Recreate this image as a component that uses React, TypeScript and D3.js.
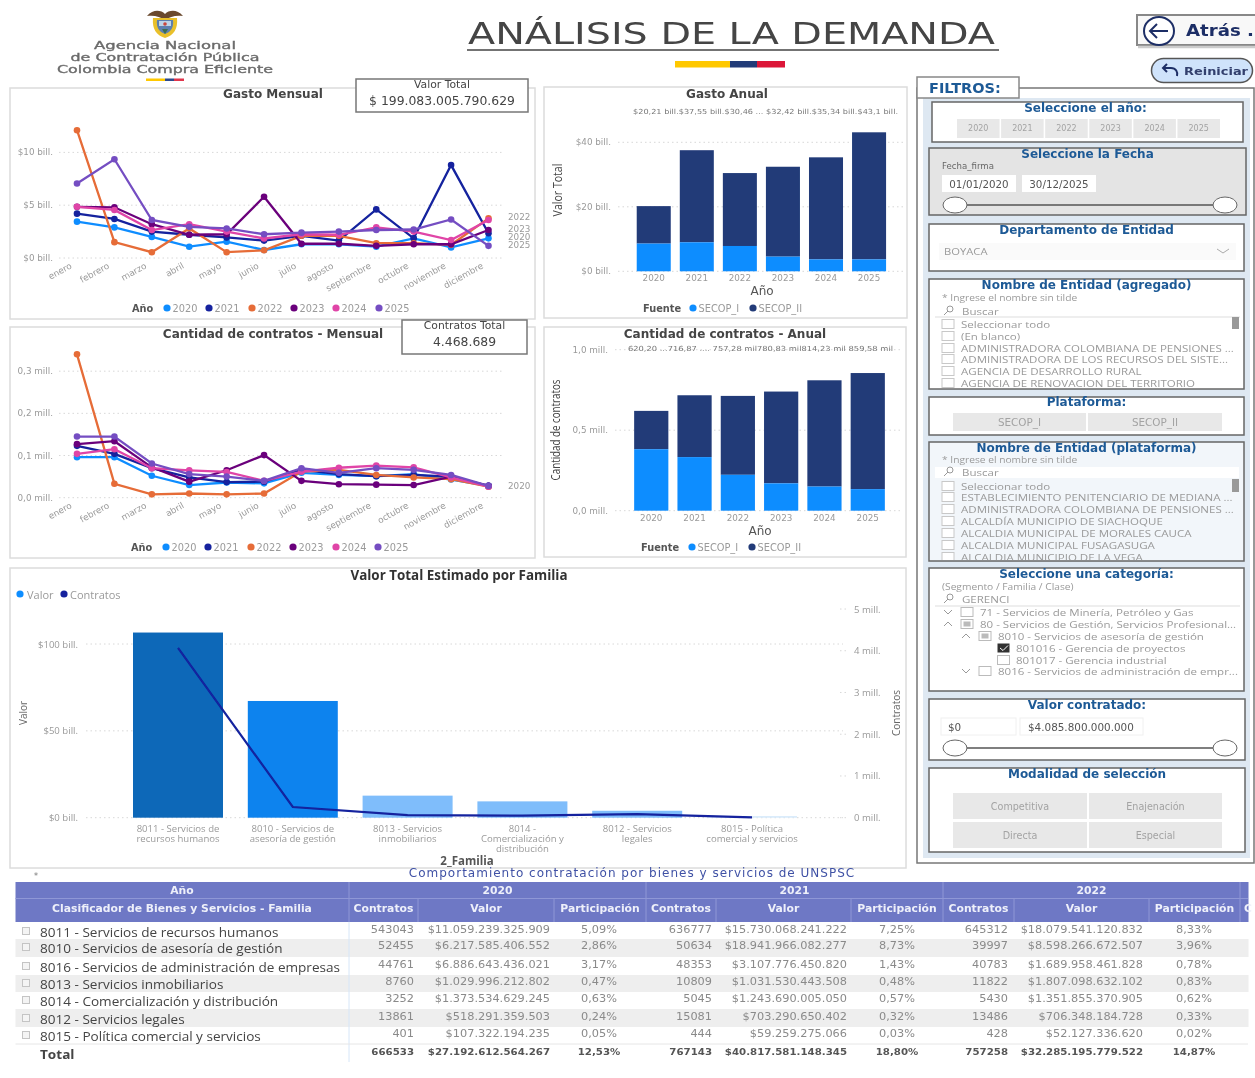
import * as d3 from "d3";

const W = 1255;
const H = 1078;
const months = ["enero", "febrero", "marzo", "abril", "mayo", "junio", "julio", "agosto", "septiembre", "octubre", "noviembre", "diciembre"];
const years = ["2020", "2021", "2022", "2023", "2024", "2025"];
const yearColors = ["#118DFF", "#12239E", "#E66C37", "#6B007B", "#E044A7", "#744EC2"];

// gasto mensual, billones
const gasto2020 = [3.44, 2.9, 2.0, 1.07, 1.55, 0.76, 1.3, 1.3, 1.07, 1.86, 1.0, 1.86];
const gasto2021 = [4.2, 3.7, 2.5, 2.2, 1.95, 1.65, 2.1, 1.65, 4.6, 1.86, 8.8, 2.35];
const gasto2022 = [12.1, 1.5, 0.55, 2.8, 0.55, 0.73, 2.1, 2.1, 1.4, 1.4, 1.25, 3.75];
const gasto2023 = [4.85, 4.8, 3.2, 2.2, 2.25, 5.8, 1.35, 1.35, 1.15, 1.3, 1.3, 2.65];
const gasto2024 = [4.85, 4.55, 2.65, 3.2, 2.5, 1.85, 2.25, 2.2, 2.9, 2.5, 1.7, 3.6];
const gasto2025 = [7.05, 9.35, 3.6, 2.95, 2.8, 2.25, 2.4, 2.5, 2.65, 2.7, 3.65, 1.15];
const gastoSeries = [gasto2020, gasto2021, gasto2022, gasto2023, gasto2024, gasto2025];

// cantidad mensual, millones
const cant2020 = [0.096, 0.096, 0.052, 0.03, 0.036, 0.034, 0.059, 0.054, 0.051, 0.056, 0.043, 0.028];
const cant2021 = [0.123, 0.104, 0.07, 0.048, 0.037, 0.038, 0.066, 0.056, 0.051, 0.054, 0.05, 0.028];
const cant2022 = [0.34, 0.033, 0.008, 0.01, 0.008, 0.01, 0.062, 0.066, 0.054, 0.048, 0.044, 0.026];
const cant2023 = [0.127, 0.134, 0.072, 0.038, 0.065, 0.101, 0.04, 0.032, 0.031, 0.03, 0.05, 0.028];
const cant2024 = [0.104, 0.115, 0.07, 0.065, 0.061, 0.04, 0.062, 0.071, 0.076, 0.072, 0.048, 0.026];
const cant2025 = [0.145, 0.145, 0.081, 0.056, 0.05, 0.04, 0.07, 0.059, 0.07, 0.066, 0.054, 0.028];
const cantSeries = [cant2020, cant2021, cant2022, cant2023, cant2024, cant2025];

const gastoTotal = [20.21, 37.55, 30.46, 32.42, 35.34, 43.1];
const gastoSecop1 = [8.6, 9.0, 7.85, 4.55, 3.7, 3.7];
const gastoLabels = "$20,21 bill.$37,55 bill.$30,46 ... $32,42 bill.$35,34 bill.$43,1 bill.";
const contratosTotal = [0.62, 0.717, 0.713, 0.74, 0.81, 0.855];
const contratosSecop1 = [0.382, 0.333, 0.223, 0.17, 0.15, 0.134];
const contratosLabels = "620,20 ...716,87 .... 757,28 mil780,83 mil814,23 mil 859,58 mil";

const familiaLabels = [
  ["8011 - Servicios de", "recursos humanos"],
  ["8010 - Servicios de", "asesoría de gestión"],
  ["8013 - Servicios", "inmobiliarios"],
  ["8014 -", "Comercialización y", "distribución"],
  ["8012 - Servicios", "legales"],
  ["8015 - Política", "comercial y servicios"],
];
const familiaValor = [106.6, 67.2, 12.7, 9.4, 4, 0.9];
const familiaContratos = [4.07, 0.256, 0.064, 0.048, 0.088, 0.008];
const familiaColors = ["#0F68B8", "#1183EE", "#7FBDFB", "#7FBDFB", "#7FBDFB", "#D6EAFB"];

const tableFamilias = [
  "8011 - Servicios de recursos humanos",
  "8010 - Servicios de asesoría de gestión",
  "8016 - Servicios de administración de empresas",
  "8013 - Servicios inmobiliarios",
  "8014 - Comercialización y distribución",
  "8012 - Servicios legales",
  "8015 - Política comercial y servicios",
  "Total",
];
const contratos2020 = ["543043", "52455", "44761", "8760", "3252", "13861", "401", "666533"];
const valor2020 = ["$11.059.239.325.909", "$6.217.585.406.552", "$6.886.643.436.021", "$1.029.996.212.802", "$1.373.534.629.245", "$518.291.359.503", "$107.322.194.235", "$27.192.612.564.267"];
const part2020 = ["5,09%", "2,86%", "3,17%", "0,47%", "0,63%", "0,24%", "0,05%", "12,53%"];
const contratos2021 = ["636777", "50634", "48353", "10809", "5045", "15081", "444", "767143"];
const valor2021 = ["$15.730.068.241.222", "$18.941.966.082.277", "$3.107.776.450.820", "$1.031.530.443.508", "$1.243.690.005.050", "$703.290.650.402", "$59.259.275.066", "$40.817.581.148.345"];
const part2021 = ["7,25%", "8,73%", "1,43%", "0,48%", "0,57%", "0,32%", "0,03%", "18,80%"];
const contratos2022 = ["645312", "39997", "40783", "11822", "5430", "13486", "428", "757258"];
const valor2022 = ["$18.079.541.120.832", "$8.598.266.672.507", "$1.689.958.461.828", "$1.807.098.632.102", "$1.351.855.370.905", "$706.348.184.728", "$52.127.336.620", "$32.285.195.779.522"];
const part2022 = ["8,33%", "3,96%", "0,78%", "0,83%", "0,62%", "0,33%", "0,02%", "14,87%"];

const entidadesAgregado = ["Seleccionar todo", "(En blanco)", "ADMINISTRADORA COLOMBIANA DE PENSIONES ...", "ADMINISTRADORA DE LOS RECURSOS DEL SISTE...", "AGENCIA DE DESARROLLO RURAL", "AGENCIA DE RENOVACION DEL TERRITORIO"];
const entidadesPlataforma = ["Seleccionar todo", "ESTABLECIMIENTO PENITENCIARIO DE MEDIANA ...", "ADMINISTRADORA COLOMBIANA DE PENSIONES ...", "ALCALDÍA MUNICIPIO DE SIACHOQUE", "ALCALDIA MUNICIPAL DE MORALES CAUCA", "ALCALDIA MUNICIPAL FUSAGASUGA", "ALCALDIA MUNICIPIO DE LA VEGA"];

const WIDE = "'DejaVu Sans', sans-serif";
const SANS = "'Open Sans', sans-serif";
const AXIS = "#9a9a9a";
const BLUE_T = "#1F5A96";

// el tablero original esta estirado a lo ancho
function SX({ x, y, k = 1.2, size = 9.6, fill = "#9a9a9a", weight = "normal", anchor = "start", family = SANS, children }) {
  return (
    <text transform={`translate(${x},${y}) scale(${k},1)`} textAnchor={anchor} dominantBaseline="central" fontFamily={family} fontSize={size} fontWeight={weight} fill={fill}>
      {children}
    </text>
  );
}

function Panel({ x, y, w, h }) {
  return <rect x={x} y={y} width={w} height={h} fill="#fff" stroke="#dcdcdc" strokeWidth={1.5} />;
}

function Grid({ x0, x1, y }) {
  return <line x1={x0} x2={x1} y1={y} y2={y} stroke="#d8d8d8" strokeDasharray="1.5 3" />;
}

function ChartTitle({ x, y, children }) {
  return <text x={x} y={y} textAnchor="middle" dominantBaseline="central" fontFamily={WIDE} fontSize={12} fontWeight="bold" fill="#444">{children}</text>;
}

function Legend({ y, title, titleX, items, colors, dots, size = 9.8 }) {
  return (
    <g fontFamily={WIDE} fontSize={size} dominantBaseline="central">
      <text x={titleX} y={y} fontWeight="bold" fill="#555">{title}</text>
      {items.map((d, i) => (
        <g key={d}>
          <circle cx={dots[i]} cy={y} r={3.6} fill={colors[i]} />
          <text x={dots[i] + 5.5} y={y} fill={AXIS}>{d}</text>
        </g>
      ))}
    </g>
  );
}

function MonthLines({ series, domainMax, ticks, fmt, y0, y1, endLabels }) {
  const x = d3.scalePoint().domain(months).range([77, 488.5]);
  const y = d3.scaleLinear().domain([0, domainMax]).range([y0, y1]);
  const line = d3.line().x((_, i) => x(months[i])).y((d) => y(d));
  return (
    <g>
      {ticks.map((t) => (
        <g key={t}>
          <Grid x0={59} x1={503} y={y(t)} />
          <text x={53} y={y(t)} textAnchor="end" dominantBaseline="central" fontSize={8.8} fontFamily={WIDE} fill={AXIS}>{fmt(t)}</text>
        </g>
      ))}
      {months.map((m) => (
        <text key={m} transform={`translate(${x(m) - 6},${y0 + 7}) rotate(-29)`} textAnchor="end" dominantBaseline="central" fontSize={8.8} fontFamily={WIDE} fill={AXIS}>{m}</text>
      ))}
      {series.map((s, k) => (
        <g key={k}>
          <path d={line(s)} fill="none" stroke={yearColors[k]} strokeWidth={2.3} />
          {s.map((v, i) => <circle key={i} cx={x(months[i])} cy={y(v)} r={3.3} fill={yearColors[k]} />)}
        </g>
      ))}
      {endLabels.map((l) => (
        <text key={l.t} x={508} y={l.y} fontSize={8.8} fontFamily={WIDE} fill={AXIS} dominantBaseline="central">{l.t}</text>
      ))}
    </g>
  );
}

function YearBars({ total, secop1, range, y0, yPerUnit, ticks, fmt, gridX, axisX, labels, labelRange, labelY, yTitle, yTitleX, yTitleY, tickY, anoX, anoY, legendY, fuenteX, dots }) {
  const x = d3.scaleBand().domain(years).range(range).paddingInner(0.21).paddingOuter(0.105);
  const y = d3.scaleLinear().domain([0, ticks[ticks.length - 1]]).range([y0, y0 - yPerUnit * ticks[ticks.length - 1]]);
  return (
    <g>
      {ticks.map((t) => (
        <g key={t}>
          <Grid x0={gridX[0]} x1={gridX[1]} y={y(t)} />
          <text x={axisX} y={y(t)} textAnchor="end" dominantBaseline="central" fontSize={8.8} fontFamily={WIDE} fill={AXIS}>{fmt(t)}</text>
        </g>
      ))}
      {years.map((yr, i) => (
        <g key={yr}>
          <rect x={x(yr)} y={y(total[i])} width={x.bandwidth()} height={y(secop1[i]) - y(total[i])} fill="#213A78" />
          <rect x={x(yr)} y={y(secop1[i])} width={x.bandwidth()} height={y0 - y(secop1[i])} fill="#118DFF" />
          <text x={x(yr) + x.bandwidth() / 2} y={tickY} textAnchor="middle" dominantBaseline="central" fontSize={8.8} fontFamily={WIDE} fill={AXIS}>{yr}</text>
        </g>
      ))}
      <text x={labelRange[0]} y={labelY} textLength={labelRange[1] - labelRange[0]} lengthAdjust="spacingAndGlyphs" dominantBaseline="central" fontSize={7} fontFamily={WIDE} fill="#777">{labels}</text>
      <text transform={`translate(${yTitleX},${yTitleY}) rotate(-90)`} textAnchor="middle" dominantBaseline="central" fontSize={12} fontFamily={SANS} fill="#444" textLength={yTitle.length * 4.8} lengthAdjust="spacingAndGlyphs">{yTitle}</text>
      <text x={anoX} y={anoY} textAnchor="middle" dominantBaseline="central" fontSize={12} fontFamily={WIDE} fill="#555">Año</text>
      <Legend y={legendY} title="Fuente" titleX={fuenteX} items={["SECOP_I", "SECOP_II"]} colors={["#118DFF", "#213A78"]} dots={dots} />
    </g>
  );
}

function FamilyCombo() {
  const domain = familiaLabels.map((d) => d[0]);
  const x = d3.scaleBand().domain(domain).range([120.6, 809.4]).paddingInner(0.216).paddingOuter(0.108);
  const yL = d3.scaleLinear().domain([0, 100]).range([817.7, 644]);
  const yR = d3.scaleLinear().domain([0, 5]).range([817.7, 609]);
  const line = d3.line().x((_, i) => x(domain[i]) + x.bandwidth() / 2).y((d) => yR(d));
  return (
    <g fontFamily={SANS}>
      {[0, 50, 100].map((t) => (
        <g key={t}>
          <Grid x0={86} x1={843} y={yL(t)} />
          <text x={78} y={yL(t)} textAnchor="end" dominantBaseline="central" fontSize={9.6} fill={AXIS}>{`$${t} bill.`}</text>
        </g>
      ))}
      {[0, 1, 2, 3, 4, 5].map((t) => (
        <g key={t}>
          <Grid x0={840} x1={848} y={yR(t)} />
          <text x={854} y={yR(t)} dominantBaseline="central" fontSize={9.6} fill={AXIS}>{`${t} mill.`}</text>
        </g>
      ))}
      {domain.map((d, i) => (
        <g key={d}>
          <rect x={x(d)} y={yL(familiaValor[i])} width={x.bandwidth()} height={817.7 - yL(familiaValor[i])} fill={familiaColors[i]} />
          {familiaLabels[i].map((t, j) => (
            <SX key={j} x={x(d) + x.bandwidth() / 2} y={829 + j * 10} k={1.17} size={8.2} anchor="middle">{t}</SX>
          ))}
        </g>
      ))}
      <path d={line(familiaContratos)} fill="none" stroke="#12239E" strokeWidth={2.2} />
      <text x={459} y={575} textAnchor="middle" dominantBaseline="central" fontSize={13.4} fontWeight="bold" fill="#333">Valor Total Estimado por Familia</text>
      <text x={467} y={860.5} textAnchor="middle" dominantBaseline="central" fontSize={11.5} fontWeight="bold" fill="#555">2_Familia</text>
      <text transform="translate(23,713) rotate(-90)" textAnchor="middle" dominantBaseline="central" fontSize={10} fill="#666">Valor</text>
      <text transform="translate(896,713) rotate(-90)" textAnchor="middle" dominantBaseline="central" fontSize={10} fill="#666">Contratos</text>
      <circle cx={20} cy={594} r={3.6} fill="#118DFF" />
      <text x={27} y={594} dominantBaseline="central" fontSize={11} fill={AXIS}>Valor</text>
      <circle cx={64} cy={594} r={3.6} fill="#12239E" />
      <text x={70} y={594} dominantBaseline="central" fontSize={11} fill={AXIS}>Contratos</text>
    </g>
  );
}

function Kpi({ x, y, w, h, title, value }) {
  return (
    <g>
      <rect x={x} y={y} width={w} height={h} fill="#fff" stroke="#777" strokeWidth={1.5} />
      <text x={x + w / 2} y={y + 5} textAnchor="middle" dominantBaseline="central" fontSize={10.8} fontFamily={WIDE} fill="#444">{title}</text>
      <text x={x + w / 2} y={y + 21} textAnchor="middle" dominantBaseline="central" fontSize={12.4} fontFamily={WIDE} fill="#444">{value}</text>
    </g>
  );
}

function Crest() {
  return (
    <g transform="translate(165,23)">
      <path d="M-18,-7 C-12,-14 -4,-13 0,-9 C4,-13 12,-14 18,-7 C10,-8 5,-6 0,-3 C-5,-6 -10,-8 -18,-7Z" fill="#6a4a2f" />
      <path d="M-12,-5 H12 C13,6 9,12 0,15 C-9,12 -13,6 -12,-5Z" fill="#E9C02A" />
      <path d="M-8,-3 H8 C9,4 6,9 0,11 C-6,9 -9,4 -8,-3Z" fill="#5C7FB0" />
      <rect x={-6} y={-2} width={12} height={5} fill="#BFD3E6" />
      <circle cx={0} cy={1} r={1.8} fill="#C8443C" />
      <path d="M-3,6 H3 L0,11Z" fill="#3C6E4F" />
    </g>
  );
}

function Header() {
  return (
    <g>
      <Crest />
      <g fontFamily={WIDE} fontSize={10.5} fill="#6b6b6b" stroke="#6b6b6b" strokeWidth={0.35} textAnchor="middle" dominantBaseline="central">
        <text x={165} y={45} textLength={142} lengthAdjust="spacingAndGlyphs">Agencia Nacional</text>
        <text x={165} y={57} textLength={189} lengthAdjust="spacingAndGlyphs">de Contratación Pública</text>
        <text x={165} y={69} textLength={216} lengthAdjust="spacingAndGlyphs">Colombia Compra Eficiente</text>
      </g>
      <rect x={146} y={78.5} width={19} height={2.5} fill="#FFC800" />
      <rect x={165} y={78.5} width={9} height={2.5} fill="#2D4A8C" />
      <rect x={174} y={78.5} width={10} height={2.5} fill="#E0344B" />
      <text x={468} y={44} textLength={527} lengthAdjust="spacingAndGlyphs" fontFamily={WIDE} fontSize={31} fill="#444">ANÁLISIS DE LA DEMANDA</text>
      <line x1={467} x2={999} y1={50} y2={50} stroke="#444" strokeWidth={1.5} />
      <rect x={675} y={61} width={55} height={6.5} fill="#FFC800" />
      <rect x={730} y={61} width={27} height={6.5} fill="#213A78" />
      <rect x={757} y={61} width={28} height={6.5} fill="#DC1437" />
      {/* botones */}
      <rect x={1137} y={15} width={125} height={30} fill="#f8f8f8" stroke="#888" strokeWidth={2} />
      <line x1={1138} x2={1255} y1={47} y2={47} stroke="#ccc" strokeWidth={2.5} />
      <ellipse cx={1159} cy={31} rx={15} ry={14} fill="#fff" stroke="#1f2f66" strokeWidth={2} />
      <path d="M1168,31 H1150 M1157,24 L1150,31 L1157,38" fill="none" stroke="#1f2f66" strokeWidth={2} />
      <text x={1186} y={36} textLength={68} lengthAdjust="spacingAndGlyphs" fontFamily={WIDE} fontSize={15} fontWeight="bold" fill="#1f2f66">Atrás .</text>
      <rect x={1151.5} y={58.5} width={101} height={24} rx={12} fill="#CFE3FB" stroke="#555" strokeWidth={1.5} />
      <path d="M1177,76 C1178,72 1176,68 1171,68 H1163 M1167,64 L1163,68 L1167,72" fill="none" stroke="#1f2f66" strokeWidth={2} />
      <text x={1184} y={74.5} textLength={64} lengthAdjust="spacingAndGlyphs" fontFamily={WIDE} fontSize={10.5} fontWeight="bold" fill="#33406e">Reiniciar</text>
    </g>
  );
}

function FilterBox({ x = 929, w = 315, y, h, title, fill = "#fff", titleY }) {
  return (
    <g>
      <rect x={x} y={y} width={w} height={h} fill={fill} stroke="#666" strokeWidth={1.5} />
      <text x={x + w / 2 - (x === 932 ? 2 : 0)} y={titleY} textAnchor="middle" dominantBaseline="central" fontFamily={WIDE} fontSize={12} fontWeight="bold" fill={BLUE_T}>{title}</text>
    </g>
  );
}

function Slider({ y }) {
  return (
    <g>
      <line x1={955} x2={1225} y1={y} y2={y} stroke="#555" strokeWidth={1.5} />
      <ellipse cx={955} cy={y} rx={12} ry={8} fill="#fff" stroke="#666" />
      <ellipse cx={1225} cy={y} rx={12} ry={8} fill="#fff" stroke="#666" />
    </g>
  );
}

function Btn({ x, y, w, h, label, size = 9.6 }) {
  return (
    <g>
      <rect x={x} y={y} width={w} height={h} fill="#E8E8E8" />
      <text x={x + w / 2} y={y + h / 2} textAnchor="middle" dominantBaseline="central" fontFamily={WIDE} fontSize={size} fill="#a3a3a3">{label}</text>
    </g>
  );
}

function Search({ y, label = "Buscar" }) {
  return (
    <g>
      <circle cx={950} cy={y - 1} r={3} fill="none" stroke="#999" />
      <line x1={948} x2={944} y1={y + 1} y2={y + 5} stroke="#999" />
      <SX x={962} y={y + 1}>{label}</SX>
    </g>
  );
}

function CheckList({ items, rows }) {
  return (
    <g>
      {items.map((t, i) => (
        <g key={t}>
          <rect x={942} y={rows[i] - 4.5} width={12} height={9} fill="#fff" stroke="#c8c8c8" />
          <SX x={961} y={rows[i]}>{t}</SX>
        </g>
      ))}
    </g>
  );
}

function Chev({ x, y, up = false }) {
  const d = up ? -1 : 1;
  return <path d={`M${x - 4},${y - 2 * d} L${x},${y + 2 * d} L${x + 4},${y - 2 * d}`} fill="none" stroke="#999" />;
}

function Filters() {
  const yearBtn = d3.scaleBand().domain(years).range([957, 1220]).paddingInner(0.035);
  const rowsA = [324, 336, 348, 359, 371, 383];
  const rowsB = [486, 497, 509, 521, 533, 545, 557];
  return (
    <g>
      <rect x={917} y={88} width={337} height={775} fill="#fff" stroke="#777" strokeWidth={1.5} />
      <rect x={923} y={98} width={327} height={760} fill="#DEE8F2" />
      <rect x={917} y={77} width={102} height={21} fill="#fff" stroke="#888" strokeWidth={1.5} />
      <text x={929} y={87.5} dominantBaseline="central" fontFamily={WIDE} fontSize={14.5} fontWeight="bold" fill={BLUE_T}>FILTROS:</text>

      <FilterBox x={932} w={311} y={102} h={40} title="Seleccione el año:" titleY={108} />
      {years.map((d) => <Btn key={d} x={yearBtn(d)} y={119} w={yearBtn.bandwidth()} h={19} label={d} size={8} />)}

      <FilterBox w={317} y={148} h={67} title="Seleccione la Fecha" fill="#E4E4E4" titleY={154} />
      <text x={942} y={166} dominantBaseline="central" fontFamily={WIDE} fontSize={8.6} fill="#666">Fecha_firma</text>
      <rect x={942} y={175} width={74} height={17} fill="#fff" />
      <rect x={1022} y={175} width={74} height={17} fill="#fff" />
      <g fontFamily={WIDE} fontSize={10.3} fill="#555" dominantBaseline="central" textAnchor="middle">
        <text x={979} y={183.5}>01/01/2020</text>
        <text x={1059} y={183.5}>30/12/2025</text>
      </g>
      <Slider y={205} />

      <FilterBox y={224} h={47} title="Departamento de Entidad" titleY={230} />
      <rect x={939} y={243} width={297} height={17} fill="#fafafa" />
      <SX x={944} y={251.5} size={9.2} k={1.22}>BOYACA</SX>
      <path d="M1217,249 L1223,253 L1229,249" fill="none" stroke="#aaa" />

      <FilterBox y={279} h={110} title="Nombre de Entidad (agregado)" titleY={285} />
      <SX x={942} y={298} size={8.2} k={1.25}>* Ingrese el nombre sin tilde</SX>
      <Search y={310} />
      <line x1={935} x2={1240} y1={317} y2={317} stroke="#ddd" />
      <CheckList items={entidadesAgregado} rows={rowsA} />
      <rect x={1232} y={317} width={7} height={12} fill="#999" />

      <FilterBox y={397} h={38} title="Plataforma:" titleY={402} />
      <Btn x={953} y={413} w={133} h={18} label="SECOP_I" size={10.4} />
      <Btn x={1088} y={413} w={134} h={18} label="SECOP_II" size={10.4} />

      <FilterBox y={442} h={119} title="Nombre de Entidad (plataforma)" fill="#F2F6FA" titleY={448} />
      <SX x={942} y={460} size={8.2} k={1.25}>* Ingrese el nombre sin tilde</SX>
      <rect x={935} y={467} width={304} height={11} fill="#fff" />
      <Search y={471} />
      <svg x={930} y={479} width={313} height={81}>
        <g transform="translate(-930,-479)">
          <CheckList items={entidadesPlataforma} rows={rowsB} />
        </g>
      </svg>
      <rect x={1232} y={479} width={7} height={13} fill="#999" />

      <FilterBox y={568} h={123} title="Seleccione una categoría:" titleY={574} />
      <SX x={942} y={587} size={8.2} k={1.25}>(Segmento / Familia / Clase)</SX>
      <Search y={598} label="GERENCI" />
      <line x1={935} x2={1240} y1={606} y2={606} stroke="#ddd" />
      <Chev x={948} y={612} />
      <rect x={961} y={607.5} width={12} height={9} fill="#fff" stroke="#bbb" />
      <SX x={980} y={612}>71 - Servicios de Minería, Petróleo y Gas</SX>
      <Chev x={948} y={624} up />
      <rect x={961} y={619.5} width={12} height={9} fill="#fff" stroke="#bbb" />
      <rect x={963.5} y={621.5} width={7} height={5} fill="#bbb" />
      <SX x={980} y={624}>80 - Servicios de Gestión, Servicios Profesional...</SX>
      <Chev x={966} y={636} up />
      <rect x={979} y={631.5} width={12} height={9} fill="#fff" stroke="#bbb" />
      <rect x={981.5} y={633.5} width={7} height={5} fill="#bbb" />
      <SX x={998} y={636}>8010 - Servicios de asesoría de gestión</SX>
      <rect x={997.5} y={643.5} width={12} height={9} fill="#333" />
      <path d="M1000,648 L1003,650.5 L1008,645.5" fill="none" stroke="#fff" />
      <SX x={1016} y={648}>801016 - Gerencia de proyectos</SX>
      <rect x={997.5} y={655.5} width={12} height={9} fill="#fff" stroke="#bbb" />
      <SX x={1016} y={660}>801017 - Gerencia industrial</SX>
      <Chev x={966} y={671} />
      <rect x={979} y={666.5} width={12} height={9} fill="#fff" stroke="#bbb" />
      <SX x={998} y={671}>8016 - Servicios de administración de empr...</SX>

      <FilterBox y={699} w={316} h={61} title="Valor contratado:" titleY={705} />
      <rect x={941} y={718} width={75} height={17} fill="#fff" stroke="#f0f0f0" />
      <rect x={1020} y={718} width={123} height={17} fill="#fff" stroke="#f0f0f0" />
      <g fontFamily={WIDE} fontSize={10.4} fill="#555" dominantBaseline="central">
        <text x={948} y={726.5}>$0</text>
        <text x={1028} y={726.5}>$4.085.800.000.000</text>
      </g>
      <Slider y={748} />

      <FilterBox y={768} w={316} h={84} title="Modalidad de selección" titleY={774} />
      <Btn x={953} y={793} w={134} h={26} label="Competitiva" />
      <Btn x={1089} y={793} w={133} h={26} label="Enajenación" />
      <Btn x={953} y={822} w={134} h={26} label="Directa" />
      <Btn x={1089} y={822} w={133} h={26} label="Especial" />
    </g>
  );
}

function Table() {
  const rowY = [931, 947, 966, 983, 1000, 1018, 1035, 1053];
  const bands = [[939, 18], [975, 17], [1009, 18]];
  const groups = [
    { year: "2020", c: contratos2020, v: valor2020, p: part2020, cols: [349, 418, 554, 646], r: [414, 550, 599] },
    { year: "2021", c: contratos2021, v: valor2021, p: part2021, cols: [646, 716, 851, 943], r: [712, 847, 897] },
    { year: "2022", c: contratos2022, v: valor2022, p: part2022, cols: [943, 1014, 1149, 1240], r: [1008, 1143, 1194] },
  ];
  const headStyle = { fontFamily: WIDE, fontSize: 10.8, fontWeight: "bold", fill: "#eef0fa" };
  return (
    <g>
      <text x={632} y={873} textAnchor="middle" dominantBaseline="central" fontFamily={WIDE} fontSize={12} letterSpacing={1} fill="#3F51A5">Comportamiento contratación por bienes y servicios de UNSPSC</text>
      <text x={36} y={879} textAnchor="middle" fontFamily={WIDE} fontSize={8} fill="#777">*</text>
      <rect x={15.5} y={882} width={1233} height={40} fill="#6E78C5" />
      <line x1={15.5} x2={1248} y1={898.5} y2={898.5} stroke="#8f97d6" />
      <text x={182} y={890.5} textAnchor="middle" dominantBaseline="central" {...headStyle}>Año</text>
      <text x={182} y={908} textAnchor="middle" dominantBaseline="central" {...headStyle}>Clasificador de Bienes y Servicios - Familia</text>
      {bands.map(([y, h]) => <rect key={y} x={15.5} y={y} width={1233} height={h} fill="#EEEEEE" />)}
      <line x1={349} x2={349} y1={922} y2={1062} stroke="#D6E6F8" />
      <line x1={15.5} x2={1248} y1={1044} y2={1044} stroke="#e6e6e6" />
      {groups.map((g) => (
        <g key={g.year}>
          <line x1={g.cols[0]} x2={g.cols[0]} y1={882} y2={922} stroke="#8f97d6" />
          <line x1={g.cols[1]} x2={g.cols[1]} y1={898} y2={922} stroke="#8f97d6" />
          <line x1={g.cols[2]} x2={g.cols[2]} y1={898} y2={922} stroke="#8f97d6" />
          <text x={(g.cols[0] + g.cols[3]) / 2} y={890.5} textAnchor="middle" dominantBaseline="central" {...headStyle}>{g.year}</text>
          <text x={(g.cols[0] + g.cols[1]) / 2} y={908} textAnchor="middle" dominantBaseline="central" {...headStyle}>Contratos</text>
          <text x={(g.cols[1] + g.cols[2]) / 2} y={908} textAnchor="middle" dominantBaseline="central" {...headStyle}>Valor</text>
          <text x={(g.cols[2] + g.cols[3]) / 2} y={908} textAnchor="middle" dominantBaseline="central" {...headStyle}>Participación</text>
          {rowY.map((y, i) => {
            const total = i === rowY.length - 1;
            const st = { k: 1.1, family: WIDE, size: total ? 9.3 : 10.3, fill: total ? "#555" : "#8a8a8a", weight: total ? "bold" : "normal" };
            return (
              <g key={y}>
                <SX x={g.r[0]} y={y - 1} anchor="end" {...st}>{g.c[i]}</SX>
                <SX x={g.r[1]} y={y - 1} anchor="end" {...st}>{g.v[i]}</SX>
                <SX x={g.r[2]} y={y - 1} anchor="middle" {...st}>{g.p[i]}</SX>
              </g>
            );
          })}
        </g>
      ))}
      <line x1={1240} x2={1240} y1={882} y2={922} stroke="#8f97d6" />
      <text x={1244} y={908} dominantBaseline="central" {...headStyle}>C</text>
      {tableFamilias.map((t, i) => (
        <g key={t}>
          {i < 7 && <rect x={22.5} y={rowY[i] - 3.5} width={7} height={7} fill="#f4f4f4" stroke="#c4c4c4" />}
          <SX x={40} y={rowY[i] + 1} k={1.16} size={11.7} fill="#444" weight={i === 7 ? "bold" : "normal"}>{t}</SX>
        </g>
      ))}
    </g>
  );
}

export default function App() {
  const gastoFmt = (t) => `$${t} bill.`;
  const cantFmt = (t) => `${t.toFixed(1).replace(".", ",")} mill.`;
  return (
    <svg width={W} height={H} viewBox={`0 0 ${W} ${H}`} style={{ position: "fixed", left: 0, top: 0, background: "#fff" }}>
      <defs>
        <filter id="soft" filterUnits="userSpaceOnUse" x={0} y={0} width={W} height={H}>
          <feGaussianBlur stdDeviation={0.5} />
        </filter>
      </defs>
      <g filter="url(#soft)">
        <Header />

        <Panel x={10} y={88} w={525} h={231} />
        <Panel x={10} y={327} w={525} h={231} />
        <Panel x={544} y={87} w={363} h={231} />
        <Panel x={544} y={327} w={362} h={230} />
        <Panel x={10} y={568} w={896} h={300} />

        <ChartTitle x={273} y={94}>Gasto Mensual</ChartTitle>
        <MonthLines series={gastoSeries} domainMax={12.5} ticks={[0, 5, 10]} fmt={gastoFmt} y0={258} y1={126}
          endLabels={[{ t: "2022", y: 217 }, { t: "2023", y: 228.5 }, { t: "2020", y: 237 }, { t: "2025", y: 245 }]} />
        <Legend y={308} title="Año" titleX={132} items={years} colors={yearColors} dots={[167, 209, 252, 294, 336, 379]} />
        <Kpi x={356} y={79} w={172} h={33} title="Valor Total" value="$ 199.083.005.790.629" />

        <ChartTitle x={273} y={334}>Cantidad de contratos - Mensual</ChartTitle>
        <MonthLines series={cantSeries} domainMax={0.35} ticks={[0, 0.1, 0.2, 0.3]} fmt={cantFmt} y0={497.7} y1={350.1}
          endLabels={[{ t: "2020", y: 486 }]} />
        <Legend y={547} title="Año" titleX={131} items={years} colors={yearColors} dots={[166, 208, 251, 293, 336, 378]} />
        <Kpi x={402} y={320} w={125} h={34} title="Contratos Total" value="4.468.689" />

        <ChartTitle x={727} y={94}>Gasto Anual</ChartTitle>
        <YearBars total={gastoTotal} secop1={gastoSecop1} range={[632.2, 890.6]} y0={271.3} yPerUnit={3.225} ticks={[0, 20, 40]} fmt={gastoFmt}
          gridX={[618, 903]} axisX={611} labels={gastoLabels} labelRange={[633, 898]} labelY={112}
          yTitle="Valor Total" yTitleX={557} yTitleY={190} tickY={278} anoX={762} anoY={291} legendY={308} fuenteX={643} dots={[693, 753]} />

        <ChartTitle x={725} y={334}>Cantidad de contratos - Anual</ChartTitle>
        <YearBars total={contratosTotal} secop1={contratosSecop1} range={[629.6, 889.4]} y0={510.7} yPerUnit={161} ticks={[0, 0.5, 1]} fmt={cantFmt}
          gridX={[615, 903]} axisX={608} labels={contratosLabels} labelRange={[628, 893]} labelY={349}
          yTitle="Cantidad de contratos" yTitleX={555} yTitleY={430} tickY={518} anoX={760} anoY={531} legendY={547} fuenteX={641} dots={[692, 752]} />

        <FamilyCombo />
        <Filters />
        <Table />
      </g>
    </svg>
  );
}
